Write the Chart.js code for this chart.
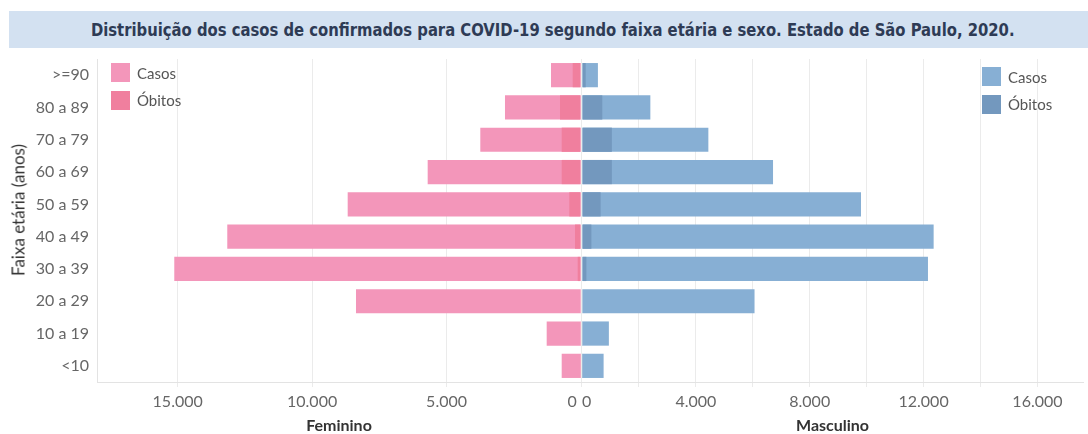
<!DOCTYPE html>
<html>
<head>
<meta charset="utf-8">
<script src="https://cdn.jsdelivr.net/npm/chart.js@4.4.0/dist/chart.umd.min.js"></script>
<style>
    body { margin: 0; width: 1088px; height: 434px; background: #fff; position: relative; overflow: hidden; font-family: Lato, sans-serif; }
    #titulo { position: absolute; left: 9px; top: 11px; width: 1079px; height: 37px; background: #d3e1f1; color: #2e3b55;
        font: bold 18px 'DejaVu Sans Condensed', 'DejaVu Sans', sans-serif; line-height: 37px; text-align: center; }
    #titulo span { display: inline-block; transform: translateX(4px) scaleX(0.915); white-space: nowrap; }
    .lienzo { position: absolute; left: 0; top: 0; width: 1088px; height: 434px; }
    #ejeY { position: absolute; left: 18px; top: 210px; transform: translate(-50%, -50%) rotate(-90deg); white-space: nowrap;
        font-size: 17px; color: #333; }
    .leyenda { position: absolute; font-size: 15px; color: #555; }
    .item { display: flex; align-items: center; height: 27.5px; }
    .cuadro { width: 19px; height: 19px; margin-right: 7px; }
</style>
</head>
<body>
<div id="titulo"><span>Distribuição dos casos de confirmados para COVID-19 segundo faixa etária e sexo. Estado de São Paulo, 2020.</span></div>
<div class="lienzo"><canvas id="femChart" width="1088" height="434"></canvas></div>
<div class="lienzo"><canvas id="mascChart" width="1088" height="434"></canvas></div>
<div id="ejeY">Faixa etária (anos)</div>
<div class="leyenda" style="left:111px; top:59px;">
    <div class="item"><div class="cuadro" style="background:#f396ba"></div>Casos</div>
    <div class="item"><div class="cuadro" style="background:#f07f9e"></div>Óbitos</div>
</div>
<div class="leyenda" style="left:982px; top:63px;">
    <div class="item"><div class="cuadro" style="background:#87afd4"></div>Casos</div>
    <div class="item"><div class="cuadro" style="background:#7398be"></div>Óbitos</div>
</div>
<script>
// Datos
const faixas = ['>=90', '80 a 89', '70 a 79', '60 a 69', '50 a 59', '40 a 49', '30 a 39', '20 a 29', '10 a 19', '<10'];
const casosFem = [1116, 2827, 3745, 5702, 8677, 13155, 15126, 8368, 1276, 718];
const obitosFem = [309, 781, 718, 718, 435, 223, 123, 30, 6, 2];
const casosMasc = [559, 2401, 4439, 6711, 9801, 12353, 12154, 6061, 944, 759];
const obitosMasc = [130, 713, 1049, 1049, 654, 329, 154, 25, 6, 2];
const ticksFem = [0, 5000, 10000, 15000];
const ticksMasc = [0, 2000, 4000, 6000, 8000, 10000, 12000, 14000, 16000];
const maxFem = 18000;
const maxMasc = 17600;

const miles = v => String(v).replace(/\B(?=(\d{3})+(?!\d))/g, '.');
const gris = '#ebebeb';

const opcionesComunes = (maxX, ticks, etiqueta, titulo, reverso, padding, mostrarY) => ({
    indexAxis: 'y',
    responsive: false,
    animation: false,
    layout: { padding: padding },
    plugins: { legend: { display: false }, tooltip: { enabled: false } },
    scales: {
        x: {
            min: 0,
            max: maxX,
            reverse: reverso,
            afterBuildTicks: s => { s.ticks = ticks.concat([maxX]).map(v => ({ value: v })); },
            afterFit: s => { s.height = 52; },
            ticks: {
                align: 'inner',
                padding: 5,
                color: '#666',
                font: { family: 'Lato', size: 16 },
                maxRotation: 0,
                autoSkip: false,
                callback: etiqueta
            },
            grid: {
                // sin línea en el máximo; el 0 sólo lo dibuja el panel femenino
                color: c => (c.tick && (c.tick.value === maxX || (!mostrarY && c.tick.value === 0))) ? 'rgba(0,0,0,0)' : gris,
                tickLength: 5
            },
            border: { color: '#e3e3e3' },
            title: {
                display: true,
                text: titulo,
                color: '#333',
                font: { family: 'Lato', size: 16, weight: 'bold', lineHeight: 1 },
                padding: { top: 0, bottom: 0 }
            }
        },
        y: {
            display: mostrarY,
            afterFit: s => { s.width = mostrarY ? 97 : 0; },
            grid: { display: false, drawTicks: false },
            border: { display: true, color: '#e3e3e3' },
            ticks: { padding: 8, color: '#666', font: { family: 'Lato', size: 16 } }
        }
    }
});

const datos = (casos, obitos, cCasos, cObitos) => ({
    labels: faixas,
    datasets: [
        { label: 'Casos', data: casos, backgroundColor: cCasos, grouped: false, order: 1, barPercentage: 0.75, categoryPercentage: 1 },
        { label: 'Óbitos', data: obitos, backgroundColor: cObitos, grouped: false, order: 0, barPercentage: 0.75, categoryPercentage: 1 }
    ]
});

const femChart = new Chart(document.getElementById('femChart').getContext('2d'), {
    type: 'bar',
    data: datos(casosFem, obitosFem, '#f396ba', '#f07f9e'),
    options: opcionesComunes(maxFem, ticksFem,
        v => v === maxFem ? '' : (v === 0 ? '0 ' : miles(v)), 'Feminino', true,
        { top: 59, right: 507, bottom: 0, left: 0 }, true)
});

const mascChart = new Chart(document.getElementById('mascChart').getContext('2d'), {
    type: 'bar',
    data: datos(casosMasc, obitosMasc, '#87afd4', '#7398be'),
    options: opcionesComunes(maxMasc, ticksMasc,
        v => (v % 4000 === 0 && v !== maxMasc) ? miles(v) : '', 'Masculino', false,
        { top: 59, right: 2, bottom: 0, left: 582 }, false)
});
</script>
</body>
</html>
